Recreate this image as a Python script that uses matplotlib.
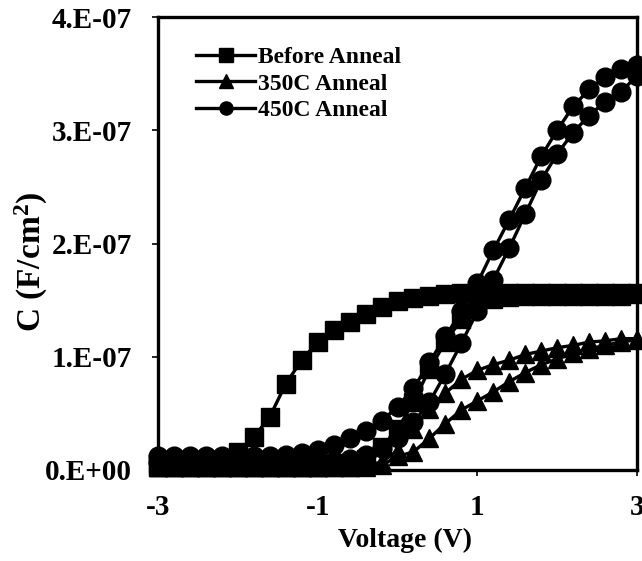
import matplotlib
matplotlib.use("Agg")
import matplotlib.pyplot as plt

plt.rcParams["font.family"] = "Liberation Serif"
plt.rcParams["font.weight"] = "bold"
plt.rcParams["mathtext.fontset"] = "custom"
plt.rcParams["mathtext.rm"] = "Liberation Serif:bold"
plt.rcParams["mathtext.bf"] = "Liberation Serif:bold"
plt.rcParams["mathtext.default"] = "bf"

# gate voltage sweep, -3 V -> +3 V and back
v_up = [-3.0, -2.8, -2.6, -2.4, -2.2, -2.0, -1.8, -1.6, -1.4, -1.2, -1.0,
        -0.8, -0.6, -0.4, -0.2, 0.0, 0.2, 0.4, 0.6, 0.8, 1.0,
        1.2, 1.4, 1.6, 1.8, 2.0, 2.2, 2.4, 2.6, 2.8, 3.0]
v_down = v_up[::-1]

# capacitance in units of 1e-7 F/cm2
before_up = [0.03, 0.03, 0.03, 0.03, 0.03, 0.03, 0.03, 0.03, 0.03, 0.03, 0.03,
             0.04, 0.06, 0.10, 0.20, 0.36, 0.60, 0.89, 1.13, 1.33, 1.46,
             1.51, 1.53, 1.54, 1.54, 1.54, 1.54, 1.54, 1.54, 1.54, 1.55]
before_down = [1.56, 1.56, 1.56, 1.56, 1.56, 1.56, 1.56, 1.56, 1.56, 1.56, 1.56,
               1.56, 1.55, 1.54, 1.52, 1.49, 1.44, 1.38, 1.31, 1.24, 1.13,
               0.97, 0.76, 0.47, 0.29, 0.16, 0.09, 0.06, 0.05, 0.05, 0.05]

a350_up = [0.03, 0.03, 0.03, 0.03, 0.03, 0.03, 0.03, 0.03, 0.03, 0.03, 0.03,
           0.03, 0.03, 0.03, 0.04, 0.12, 0.16, 0.28, 0.41, 0.53, 0.61,
           0.69, 0.78, 0.86, 0.93, 0.98, 1.03, 1.07, 1.10, 1.13, 1.15]
a350_down = [1.16, 1.16, 1.14, 1.13, 1.10, 1.08, 1.05, 1.02, 0.97, 0.93, 0.88,
             0.80, 0.68, 0.54, 0.36, 0.17, 0.07, 0.04, 0.03, 0.03, 0.03,
             0.03, 0.03, 0.03, 0.03, 0.03, 0.03, 0.03, 0.03, 0.03, 0.03]

a450_up = [0.07, 0.07, 0.07, 0.07, 0.07, 0.07, 0.07, 0.07, 0.07, 0.07, 0.07,
           0.08, 0.10, 0.13, 0.19, 0.28, 0.42, 0.60, 0.85, 1.12, 1.40,
           1.68, 1.96, 2.26, 2.56, 2.79, 2.98, 3.13, 3.25, 3.34, 3.48]
a450_down = [3.58, 3.54, 3.47, 3.36, 3.21, 3.00, 2.77, 2.49, 2.21, 1.94, 1.65,
             1.40, 1.18, 0.95, 0.72, 0.56, 0.43, 0.34, 0.28, 0.22, 0.18,
             0.15, 0.13, 0.12, 0.12, 0.12, 0.12, 0.12, 0.12, 0.12, 0.12]

labels = ["Before Anneal", "350C Anneal", "450C Anneal"]
markers = ["s", "^", "o"]
curves = [(before_up, before_down), (a350_up, a350_down), (a450_up, a450_down)]

fig = plt.figure(figsize=(6.42, 5.61), dpi=100)
ax = fig.add_axes([158/642, 91/561, 479/642, 453/561])

v_loop = v_up + v_down
for i, (up, down) in enumerate(curves):
    c = [x * 1e-7 for x in up + down]
    ax.plot(v_loop, c, color="black", lw=2.4, marker=markers[i], ms=13.5,
            mfc="black", mec="black", clip_on=False, zorder=3 + i, label=labels[i])

ax.set_xlim(-3, 3)
ax.set_ylim(0, 4e-7)
ax.set_xticks([-3, -1, 1, 3])
ax.set_xticklabels(["-3", "-1", "1", "3"])
ax.set_yticks([0, 1e-7, 2e-7, 3e-7, 4e-7])
ax.set_yticklabels(["0.E+00", "1.E-07", "2.E-07", "3.E-07", "4.E-07"])
ax.tick_params(axis="both", labelsize=21, width=1.2, length=4.5, direction="out")
ax.tick_params(axis="x", pad=13)
ax.tick_params(axis="y", pad=14)
for s in ax.spines.values():
    s.set_linewidth(2.4)

ax.set_xlabel("Voltage (V)", fontsize=20, fontweight="bold")
ax.xaxis.set_label_coords(0.516, -0.128)
ax.set_ylabel("C (F/cm$^2$)", fontsize=24, fontweight="bold")
ax.yaxis.set_label_coords(-0.225, 0.46)

ax.legend(loc="upper left", bbox_to_anchor=(0.08, 0.935), frameon=False,
          fontsize=17, handlelength=2.5, handletextpad=0.1, labelspacing=0.22,
          markerscale=0.7, borderpad=0, borderaxespad=0)

fig.savefig("out.png", dpi=100)
